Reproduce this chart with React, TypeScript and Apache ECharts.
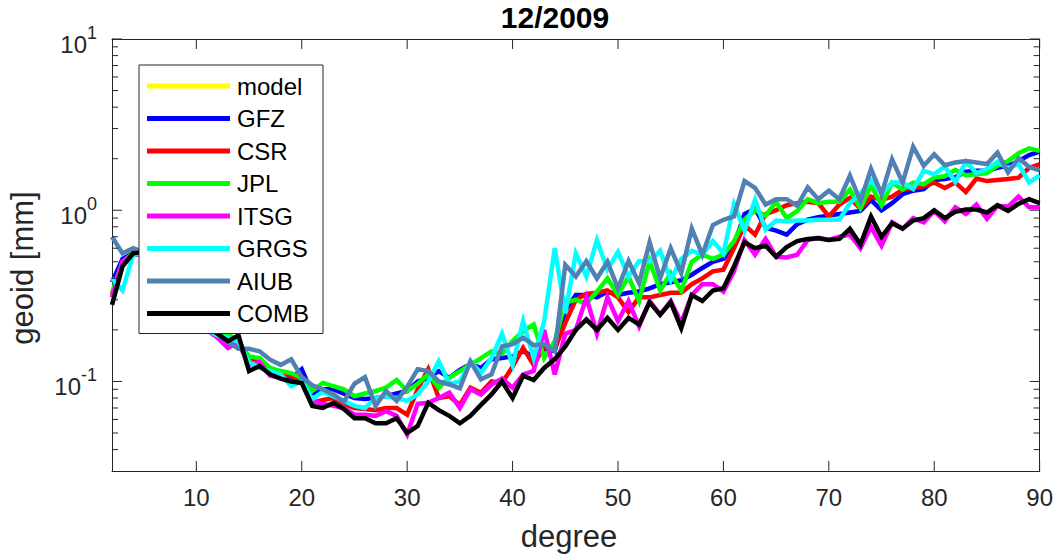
import React, { useEffect, useRef } from "react";
import * as echarts from "echarts";

const degrees = [
  2, 3, 4, 5, 6, 7, 8, 9, 10, 11, 12, 13, 14, 15, 16, 17, 18, 19, 20, 21, 22, 23, 24, 25, 26, 27, 28, 29, 30,
  31, 32, 33, 34, 35, 36, 37, 38, 39, 40, 41, 42, 43, 44, 45, 46, 47, 48, 49, 50, 51, 52, 53, 54, 55, 56, 57, 58, 59, 60,
  61, 62, 63, 64, 65, 66, 67, 68, 69, 70, 71, 72, 73, 74, 75, 76, 77, 78, 79, 80, 81, 82, 83, 84, 85, 86, 87, 88, 89, 90,
];

const modelVals: number[] = [];

const gfzVals = [
  0.38, 0.52, 0.56, 0.56, 0.49, 0.43, 0.37, 0.31, 0.26, 0.21, 0.19, 0.17, 0.165, 0.13, 0.125, 0.115, 0.108, 0.104, 0.118,
  0.085, 0.09, 0.09, 0.085, 0.08, 0.079, 0.08, 0.082, 0.085, 0.088, 0.1, 0.105, 0.115, 0.105, 0.117, 0.126, 0.12, 0.135,
  0.137, 0.14, 0.15, 0.14, 0.155, 0.15, 0.26, 0.32, 0.32, 0.31, 0.335, 0.32, 0.33, 0.335, 0.35, 0.37, 0.38, 0.39, 0.42,
  0.46, 0.5, 0.52, 0.62, 0.95, 1.02, 0.79, 0.76, 0.72, 0.83, 0.88, 0.91, 0.93, 0.95, 0.97, 0.99, 1.15, 1.0, 1.1, 1.24,
  1.3, 1.33, 1.5, 1.52, 1.56, 1.68, 1.7, 1.7, 1.77, 1.82, 1.94, 2.1, 2.2,
];

const csrVals = [
  0.32, 0.5, 0.56, 0.56, 0.49, 0.42, 0.36, 0.31, 0.26, 0.21, 0.185, 0.17, 0.165, 0.13, 0.135, 0.115, 0.11, 0.108, 0.1,
  0.075, 0.078, 0.08, 0.074, 0.07, 0.069, 0.068, 0.07, 0.07, 0.064, 0.09, 0.118, 0.08, 0.082, 0.073, 0.092, 0.086, 0.1,
  0.098, 0.122, 0.157, 0.125, 0.16, 0.155, 0.22, 0.3, 0.325, 0.33, 0.34, 0.31, 0.255, 0.31, 0.31, 0.32, 0.33, 0.33, 0.37,
  0.4, 0.44, 0.45, 0.6, 0.82, 0.72, 0.95, 1.0, 1.07, 1.1, 1.12, 1.1, 0.92, 1.08, 1.18, 1.02, 1.2, 1.15, 1.2, 1.32, 1.35,
  1.38, 1.45, 1.35, 1.45, 1.28, 1.53, 1.48, 1.5, 1.52, 1.55, 1.77, 1.85,
];

const jplVals = [
  0.33, 0.5, 0.56, 0.57, 0.5, 0.43, 0.37, 0.31, 0.26, 0.215, 0.195, 0.19, 0.17, 0.14, 0.137, 0.12, 0.115, 0.112, 0.105,
  0.088, 0.098, 0.094, 0.09, 0.082, 0.085, 0.088, 0.092, 0.102, 0.088, 0.097, 0.11, 0.092, 0.105, 0.115, 0.125, 0.137,
  0.15, 0.145, 0.172, 0.197, 0.215, 0.137, 0.172, 0.29, 0.3, 0.285, 0.335, 0.4, 0.32, 0.41, 0.295, 0.505, 0.34, 0.43, 0.34,
  0.5, 0.55, 0.52, 0.55, 0.66, 0.88, 1.0, 0.93, 1.12, 0.9, 0.99, 1.16, 1.1, 1.12, 1.12, 1.32, 1.03, 1.4, 1.07, 1.45, 1.32,
  1.45, 1.42, 1.55, 1.58, 1.72, 1.6, 1.62, 1.65, 1.82, 1.94, 2.15, 2.3, 2.22,
];

const itsgVals = [
  0.31, 0.5, 0.55, 0.55, 0.48, 0.42, 0.36, 0.3, 0.25, 0.2, 0.18, 0.157, 0.17, 0.125, 0.13, 0.108, 0.105, 0.1, 0.098,
  0.077, 0.074, 0.072, 0.07, 0.064, 0.064, 0.063, 0.067, 0.063, 0.049, 0.074, 0.075, 0.08, 0.086, 0.07, 0.09, 0.084,
  0.096, 0.104, 0.092, 0.11, 0.115, 0.2, 0.11, 0.19, 0.2, 0.31, 0.19, 0.31, 0.225, 0.295, 0.21, 0.295, 0.246, 0.295, 0.22,
  0.32, 0.37, 0.37, 0.335, 0.44, 0.67, 0.55, 0.68, 0.535, 0.53, 0.55, 0.67, 0.69, 0.67, 0.7, 0.72, 0.6, 0.8, 0.62, 0.85,
  0.78, 0.9, 0.85, 0.99, 0.86, 1.04, 0.95, 1.08, 0.89, 1.06, 1.05, 1.2, 1.04, 1.04,
];

const grgsVals = [
  0.4, 0.34, 0.55, 0.56, 0.49, 0.42, 0.36, 0.3, 0.25, 0.2, 0.185, 0.18, 0.17, 0.13, 0.12, 0.115, 0.11, 0.094, 0.1, 0.079,
  0.087, 0.082, 0.077, 0.072, 0.07, 0.08, 0.082, 0.08, 0.077, 0.084, 0.1, 0.131, 0.097, 0.1, 0.131, 0.112, 0.137, 0.19,
  0.125, 0.225, 0.137, 0.225, 0.6, 0.25, 0.56, 0.41, 0.67, 0.45, 0.57, 0.41, 0.505, 0.5, 0.58, 0.39, 0.52, 0.58, 0.55,
  0.66, 0.56, 1.08, 0.76, 1.15, 0.77, 0.87, 0.86, 0.87, 0.87, 0.88, 0.88, 0.88, 1.1, 1.25, 1.5, 1.25, 1.45, 1.45, 1.33,
  1.7, 1.62, 1.8, 1.46, 1.92, 1.65, 1.74, 1.92, 1.76, 1.86, 1.45, 1.6,
];

const aiubVals = [
  0.7, 0.56, 0.6, 0.57, 0.5, 0.44, 0.38, 0.32, 0.27, 0.22, 0.19, 0.17, 0.155, 0.155, 0.15, 0.134, 0.125, 0.135, 0.106,
  0.095, 0.09, 0.084, 0.076, 0.097, 0.106, 0.072, 0.088, 0.077, 0.093, 0.118, 0.115, 0.1, 0.096, 0.091, 0.131, 0.103,
  0.11, 0.16, 0.165, 0.18, 0.163, 0.165, 0.15, 0.48, 0.41, 0.505, 0.4, 0.5, 0.35, 0.505, 0.375, 0.65, 0.4, 0.6, 0.43,
  0.78, 0.55, 0.82, 0.88, 0.92, 1.48, 1.35, 1.08, 1.16, 1.16, 1.06, 1.36, 1.16, 1.3, 1.16, 1.59, 1.13, 1.74, 1.24, 1.98,
  1.45, 2.35, 1.82, 2.12, 1.83, 1.9, 1.94, 1.9, 1.86, 2.17, 1.66, 2.02, 1.79, 1.71,
];

const combVals = [
  0.28, 0.47, 0.56, 0.57, 0.5, 0.43, 0.37, 0.31, 0.26, 0.21, 0.19, 0.172, 0.186, 0.115, 0.123, 0.11, 0.104, 0.1, 0.098,
  0.072, 0.07, 0.075, 0.069, 0.061, 0.061, 0.057, 0.057, 0.061, 0.05, 0.055, 0.075, 0.068, 0.063, 0.057, 0.063, 0.073,
  0.084, 0.1, 0.08, 0.108, 0.102, 0.12, 0.135, 0.16, 0.2, 0.23, 0.2, 0.235, 0.2, 0.235, 0.215, 0.29, 0.245, 0.29, 0.205,
  0.32, 0.295, 0.34, 0.35, 0.47, 0.65, 0.6, 0.62, 0.535, 0.61, 0.66, 0.68, 0.685, 0.67, 0.68, 0.78, 0.63, 0.92, 0.7, 0.84,
  0.78, 0.87, 0.9, 1.0, 0.9, 0.98, 1.01, 1.01, 0.97, 1.07, 0.99, 1.09, 1.16, 1.1,
];

const seriesNames = ["model", "GFZ", "CSR", "JPL", "ITSG", "GRGS", "AIUB", "COMB"];
const seriesValues = [modelVals, gfzVals, csrVals, jplVals, itsgVals, grgsVals, aiubVals, combVals];
const seriesColors = ["#ffff00", "#0000ff", "#ff0000", "#00ff00", "#ff00ff", "#00ffff", "#5080b4", "#000000"];

const xMin = 2;
const xMax = 90;
const xTickValues = [10, 20, 30, 40, 50, 60, 70, 80, 90];
const yMin = 0.03;
const yMax = 10;
const yMajorTicks = [0.1, 1, 10];
const yMinorTicks = [
  0.04, 0.05, 0.06, 0.07, 0.08, 0.09, 0.2, 0.3, 0.4, 0.5, 0.6, 0.7, 0.8, 0.9, 2, 3, 4, 5, 6, 7, 8, 9,
];

const FONT = "'Liberation Sans', Arial, Helvetica, sans-serif";
const AXIS_COLOR = "#262626";
const MAJOR_LEN = 10;
const MINOR_LEN = 6;

export default function App() {
  const ref = useRef<HTMLDivElement>(null);

  useEffect(() => {
    if (!ref.current) return;
    const chart = echarts.init(ref.current, null, { renderer: "svg" });

    const tickStyle = { stroke: AXIS_COLOR, lineWidth: 1 };

    const yTickData = [
      ...yMajorTicks.map((v) => [xMin, v, MAJOR_LEN]),
      ...yMinorTicks.map((v) => [xMin, v, MINOR_LEN]),
    ];
    const xTickData = xTickValues.map((d) => [d, yMin, MAJOR_LEN]);

    const lineSeries = seriesNames.map((name, si) => ({
      name,
      type: "line",
      xAxisIndex: 0,
      yAxisIndex: 0,
      showSymbol: false,
      symbol: "none",
      color: seriesColors[si],
      lineStyle: { width: 4.5, color: seriesColors[si], join: "miter" },
      data: seriesValues[si].map((v, i) => [degrees[i], v]),
      z: 2,
    }));

    const option = {
      animation: false,
      backgroundColor: "#ffffff",
      textStyle: { fontFamily: FONT },
      grid: { left: 112, right: 15, top: 39, bottom: 85, containLabel: false },
      legend: {
        orient: "vertical",
        left: 139,
        top: 65,
        data: seriesNames,
        icon: "rect",
        itemWidth: 83,
        itemHeight: 5,
        itemGap: 8.5,
        padding: [9, 14, 8, 8],
        backgroundColor: "#ffffff",
        borderColor: AXIS_COLOR,
        borderWidth: 1,
        borderRadius: 0,
        selectedMode: false,
        textStyle: { fontSize: 24, lineHeight: 24, color: "#000000", fontFamily: FONT, padding: [0, 0, 0, 2] },
      },
      xAxis: [
        {
          type: "value",
          min: xMin,
          max: xMax,
          position: "bottom",
          splitLine: { show: false },
          axisLine: { show: true, onZero: false, lineStyle: { color: AXIS_COLOR, width: 1 } },
          axisTick: { show: false },
          axisLabel: { show: true, customValues: xTickValues, fontSize: 24, color: AXIS_COLOR, margin: 14, fontFamily: FONT },
        },
        {
          type: "value",
          min: xMin,
          max: xMax,
          position: "top",
          splitLine: { show: false },
          axisLine: { show: true, onZero: false, lineStyle: { color: AXIS_COLOR, width: 1 } },
          axisTick: { show: false },
          axisLabel: { show: false },
        },
      ],
      yAxis: [
        {
          type: "log",
          min: yMin,
          max: yMax,
          logBase: 10,
          position: "left",
          splitLine: { show: false },
          minorTick: { show: false },
          axisLine: { show: true, onZero: false, lineStyle: { color: AXIS_COLOR, width: 1 } },
          axisTick: { show: false },
          axisLabel: {
            show: true,
            customValues: yMajorTicks,
            margin: 15,
            padding: [10, 0, 0, 0],
            formatter: (v: number) => `{b|10}{s|${Math.round(Math.log10(v))}}`,
            rich: {
              b: { fontSize: 24, lineHeight: 40, color: AXIS_COLOR, fontFamily: FONT },
              s: { fontSize: 18, lineHeight: 20, verticalAlign: "top", color: AXIS_COLOR, fontFamily: FONT },
            },
          },
        },
        {
          type: "log",
          min: yMin,
          max: yMax,
          logBase: 10,
          position: "right",
          splitLine: { show: false },
          minorTick: { show: false },
          axisLine: { show: true, onZero: false, lineStyle: { color: AXIS_COLOR, width: 1 } },
          axisTick: { show: false },
          axisLabel: { show: false },
        },
      ],
      graphic: [
        {
          type: "text",
          x: 555,
          y: 17,
          style: {
            text: "12/2009",
            fontSize: 30,
            fontWeight: "bold",
            fill: "#000000",
            fontFamily: FONT,
            textAlign: "center",
            textVerticalAlign: "middle",
          },
        },
        {
          type: "text",
          x: 569,
          y: 536,
          style: {
            text: "degree",
            fontSize: 31,
            fill: AXIS_COLOR,
            fontFamily: FONT,
            textAlign: "center",
            textVerticalAlign: "middle",
          },
        },
        {
          type: "text",
          x: 22,
          y: 268,
          rotation: Math.PI / 2,
          style: {
            text: "geoid [mm]",
            fontSize: 31,
            fill: AXIS_COLOR,
            fontFamily: FONT,
            textAlign: "center",
            textVerticalAlign: "middle",
          },
        },
      ],
      series: [
        ...lineSeries,
        {
          name: "yTicks",
          type: "custom",
          xAxisIndex: 0,
          yAxisIndex: 0,
          silent: true,
          clip: false,
          z: 5,
          encode: { x: 0, y: 1 },
          data: yTickData,
          renderItem: (_params: any, api: any) => {
            const v = api.value(1);
            const len = api.value(2);
            const pL = api.coord([xMin, v]);
            const pR = api.coord([xMax, v]);
            return {
              type: "group",
              children: [
                { type: "line", shape: { x1: pL[0], y1: pL[1], x2: pL[0] + len, y2: pL[1] }, style: tickStyle },
                { type: "line", shape: { x1: pR[0], y1: pR[1], x2: pR[0] - len, y2: pR[1] }, style: tickStyle },
              ],
            };
          },
        },
        {
          name: "xTicks",
          type: "custom",
          xAxisIndex: 0,
          yAxisIndex: 0,
          silent: true,
          clip: false,
          z: 5,
          encode: { x: 0, y: 1 },
          data: xTickData,
          renderItem: (_params: any, api: any) => {
            const d = api.value(0);
            const len = api.value(2);
            const pB = api.coord([d, yMin]);
            const pT = api.coord([d, yMax]);
            return {
              type: "group",
              children: [
                { type: "line", shape: { x1: pB[0], y1: pB[1], x2: pB[0], y2: pB[1] - len }, style: tickStyle },
                { type: "line", shape: { x1: pT[0], y1: pT[1], x2: pT[0], y2: pT[1] + len }, style: tickStyle },
              ],
            };
          },
        },
      ],
    };

    chart.setOption(option as any);
    return () => chart.dispose();
  }, []);

  return (
    <div
      ref={ref}
      style={{ position: "fixed", left: 0, top: 0, width: 1056, height: 556, background: "#ffffff" }}
    />
  );
}
